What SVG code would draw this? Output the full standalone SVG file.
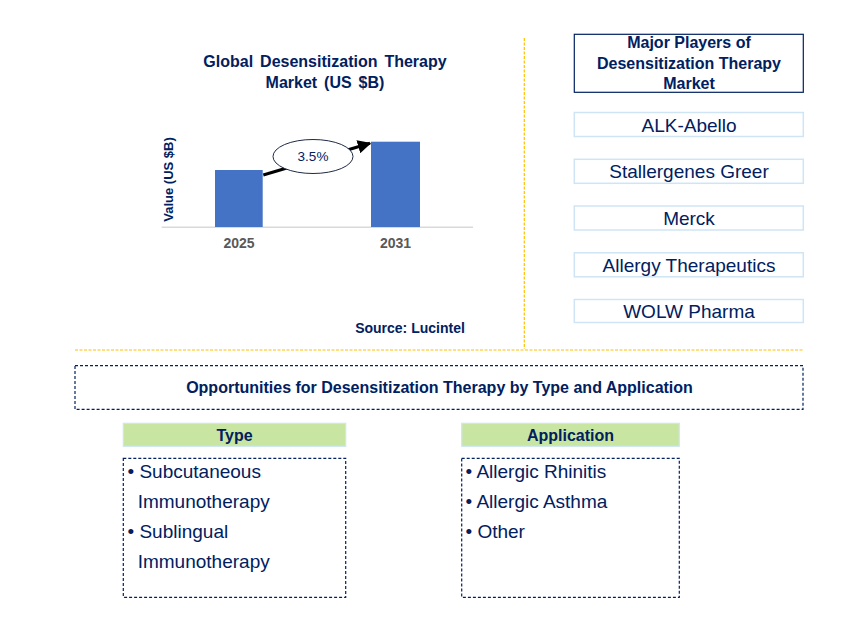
<svg xmlns="http://www.w3.org/2000/svg" width="868" height="638" viewBox="0 0 868 638">
<style>
text{font-family:"Liberation Sans",Arial,sans-serif;fill:#002060}
.b{font-weight:bold}
.title{font-size:16px;font-weight:bold;word-spacing:2.5px}
.yr{font-size:14px;font-weight:bold;fill:#595959}
.player{fill:#fff;stroke:#cfe5f5;stroke-width:1.5}
.ptxt{font-size:19px;text-anchor:middle}
.hdr{fill:#c8e6a2;stroke:#cfe5f5;stroke-width:1.2}
.htxt{font-size:16px;font-weight:bold;text-anchor:middle}
.dot{fill:none;stroke:#002060;stroke-width:1.2;stroke-dasharray:3 2}
.item{font-size:19px}
.div{stroke:#ffc000;stroke-width:1.2;stroke-dasharray:3 1.5;fill:none}
</style>
<defs>
<marker id="ah" viewBox="0 0 10 10" refX="9" refY="5" markerWidth="4.5" markerHeight="4.5" orient="auto" markerUnits="strokeWidth">
<path d="M0,0 L10,5 L0,10 z" fill="#000"/>
</marker>
</defs>
<rect width="868" height="638" fill="#fff"/>

<g id="dividers">
<line class="div" x1="524.3" y1="38" x2="524.3" y2="349"/>
<line class="div" x1="75" y1="350" x2="803" y2="350"/>
</g>

<g id="chart">
<text class="title" x="325" y="66.5" text-anchor="middle">Global Desensitization Therapy</text>
<text class="title" x="325" y="87.5" text-anchor="middle">Market (US $B)</text>
<line x1="161.7" y1="227.3" x2="473" y2="227.3" stroke="#d9d9d9" stroke-width="1.5"/>
<rect x="215" y="170" width="47.7" height="57" fill="#4472c4"/>
<rect x="371" y="141.7" width="49" height="85.3" fill="#4472c4"/>
<text class="yr" x="239" y="248.3" text-anchor="middle">2025</text>
<text class="yr" x="395.5" y="248.3" text-anchor="middle">2031</text>
<text class="b" font-size="13" transform="translate(173 179.5) rotate(-90)" text-anchor="middle">Value (US $B)</text>
<text class="b" x="410" y="333" font-size="14" text-anchor="middle">Source: Lucintel</text>
</g>

<g id="connectors">
<line x1="263.3" y1="175" x2="370" y2="143.3" stroke="#000" stroke-width="3" marker-end="url(#ah)"/>
</g>

<g id="cagr">
<ellipse cx="313" cy="156.5" rx="40" ry="17" fill="#fff" stroke="#1f2a44" stroke-width="1"/>
<text x="313" y="161" font-size="13.5" text-anchor="middle">3.5%</text>
</g>

<g id="players-header">
<rect x="574.3" y="34.3" width="229" height="58" fill="#fff" stroke="#002060" stroke-width="1.2"/>
<text class="htxt" x="689" y="48.3">Major Players of</text>
<text class="htxt" x="689" y="69">Desensitization Therapy</text>
<text class="htxt" x="689" y="89.3">Market</text>
</g>
<g id="p1"><rect class="player" x="574.3" y="112.5" width="229" height="24"/><text class="ptxt" x="689" y="131.5">ALK-Abello</text></g>
<g id="p2"><rect class="player" x="574.3" y="159.3" width="229" height="24"/><text class="ptxt" x="689" y="178.3">Stallergenes Greer</text></g>
<g id="p3"><rect class="player" x="574.3" y="206" width="229" height="24"/><text class="ptxt" x="689" y="225">Merck</text></g>
<g id="p4"><rect class="player" x="574.3" y="252.8" width="229" height="24"/><text class="ptxt" x="689" y="271.8">Allergy Therapeutics</text></g>
<g id="p5"><rect class="player" x="574.3" y="299.5" width="229" height="23"/><text class="ptxt" x="689" y="317.5">WOLW Pharma</text></g>

<g id="opportunities">
<rect class="dot" x="75" y="365.7" width="728" height="43.6"/>
<text class="htxt" x="439.5" y="392.5">Opportunities for Desensitization Therapy by Type and Application</text>
</g>

<g id="type">
<rect class="hdr" x="123.3" y="423.3" width="222.4" height="23"/>
<text class="htxt" x="234.5" y="440.5">Type</text>
<rect class="dot" x="123.3" y="458.3" width="222.4" height="139"/>
<text class="item" x="127.5" y="477.7">• Subcutaneous</text>
<text class="item" x="137.7" y="507.7">Immunotherapy</text>
<text class="item" x="127.5" y="537.5">• Sublingual</text>
<text class="item" x="137.7" y="567.5">Immunotherapy</text>
</g>

<g id="application">
<rect class="hdr" x="461.7" y="423.3" width="217.6" height="23"/>
<text class="htxt" x="570.5" y="440.5">Application</text>
<rect class="dot" x="461.7" y="458.3" width="217.6" height="139"/>
<text class="item" x="465.5" y="477.7">• Allergic Rhinitis</text>
<text class="item" x="465.5" y="507.7">• Allergic Asthma</text>
<text class="item" x="465.5" y="537.7">• Other</text>
</g>
</svg>
